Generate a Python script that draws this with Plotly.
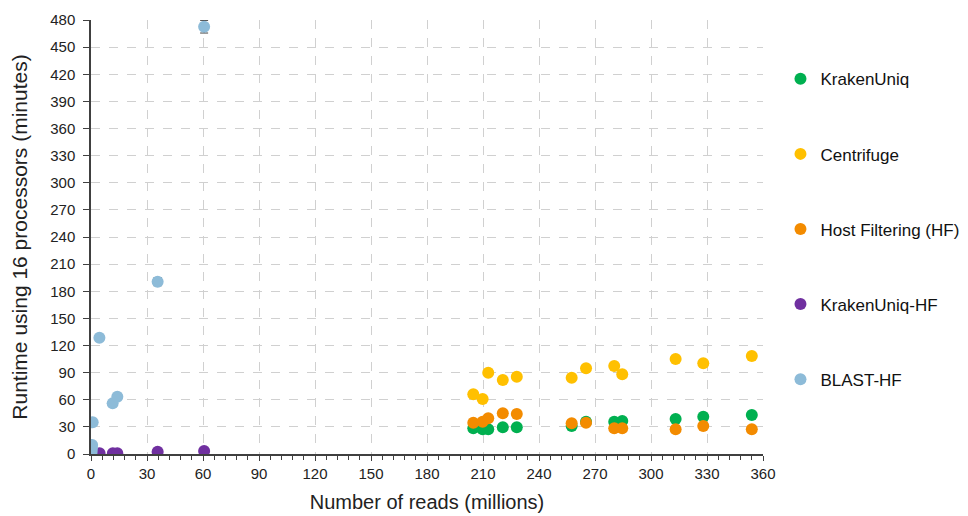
import plotly.graph_objects as go

# ---- data (millions of reads, runtime minutes) ----
ku_x = [0.5, 204.8, 209.8, 212.8, 220.6, 228.1, 257.5, 265.2, 280.3, 284.6, 313.2, 328.0, 354.0]
ku_y = [0.3, 28.4, 27.3, 27.3, 29.5, 29.5, 31.0, 35.7, 35.7, 36.5, 38.7, 41.3, 43.1]

cf_x = [204.8, 209.8, 212.8, 220.6, 228.1, 257.5, 265.2, 280.3, 284.6, 313.2, 328.0, 354.0]
cf_y = [66.0, 60.8, 89.9, 81.8, 85.5, 84.4, 94.8, 97.3, 88.1, 105.0, 100.3, 108.4]

hf_x = [1.0, 204.8, 209.8, 212.8, 220.6, 228.1, 257.5, 265.2, 280.3, 284.6, 313.2, 328.0, 354.0]
hf_y = [0.5, 34.6, 35.7, 39.5, 45.0, 44.2, 33.9, 34.6, 28.4, 28.4, 27.3, 31.0, 27.3]

kuhf_x = [0.3, 4.6, 11.7, 14.1, 35.7, 60.6]
kuhf_y = [0.3, 0.8, 0.9, 0.9, 2.5, 3.3]

bl_x = [0.1, 0.3, 0.5, 0.6, 0.9, 4.5, 11.6, 14.1, 35.7, 60.6]
bl_y = [0.5, 2.5, 6.0, 10.0, 35.0, 128.6, 56.0, 63.4, 190.6, 472.6]
bl_err = [0, 0, 0, 0, 0, 0, 0, 0, 4.5, 7.0]

x_ticks = list(range(0, 361, 30))
y_ticks = list(range(0, 481, 30))

series = [
    ("KrakenUniq", ku_x, ku_y, None, "#00B050"),
    ("Centrifuge", cf_x, cf_y, None, "#FFC000"),
    ("Host Filtering (HF)", hf_x, hf_y, None, "#F38B00"),
    ("KrakenUniq-HF", kuhf_x, kuhf_y, None, "#7030A0"),
    ("BLAST-HF", bl_x, bl_y, bl_err, "#8DBBD8"),
]

fig = go.Figure()
for name, xs, ys, err, col in series:
    kw = {}
    if err is not None:
        kw["error_y"] = dict(type="data", array=err, visible=True,
                             color="#404040", thickness=1, width=4)
    fig.add_trace(go.Scatter(
        x=xs, y=ys, mode="markers", name=name, legendgroup=name,
        marker=dict(size=12, color=col, line=dict(width=0)),
        **kw))

font_family = "Liberation Sans, Arial, sans-serif"
fig.update_layout(
    width=968, height=516,
    margin=dict(l=83, r=213, t=12, b=70),
    paper_bgcolor="white", plot_bgcolor="white",
    font=dict(family=font_family, color="#222222"),
    showlegend=True,
    legend=dict(x=1.026, xanchor="left", y=0.905, yanchor="top",
                xref="paper",
                font=dict(size=17, color="#111111"),
                tracegroupgap=50, itemsizing="constant",
                bgcolor="rgba(0,0,0,0)"),
    xaxis=dict(
        range=[0, 360], tickvals=x_ticks, ticktext=[str(v) for v in x_ticks],
        showgrid=True, gridcolor="#D0D0D0", griddash="dash", gridwidth=1,
        showline=True, linecolor="#404040", linewidth=1.5,
        ticks="outside", ticklen=5, tickcolor="#404040",
        minor=dict(dtick=6, ticks="outside", ticklen=4, tickcolor="#404040", showgrid=False),
        zeroline=False, tickfont=dict(size=15), automargin=False,
        title=dict(text="Number of reads (millions)", font=dict(size=20), standoff=14),
    ),
    yaxis=dict(
        range=[0, 480], tickvals=y_ticks, ticktext=[str(v) for v in y_ticks],
        showgrid=True, gridcolor="#D0D0D0", griddash="dash", gridwidth=1,
        showline=True, linecolor="#404040", linewidth=1.5,
        ticks="outside", ticklen=6, tickcolor="#404040", ticklabelstandoff=5,
        zeroline=False, tickfont=dict(size=15), automargin=False,
        title=dict(text="Runtime using 16 processors (minutes)", font=dict(size=21), standoff=20),
    ),
)

fig.write_html("out.html")
